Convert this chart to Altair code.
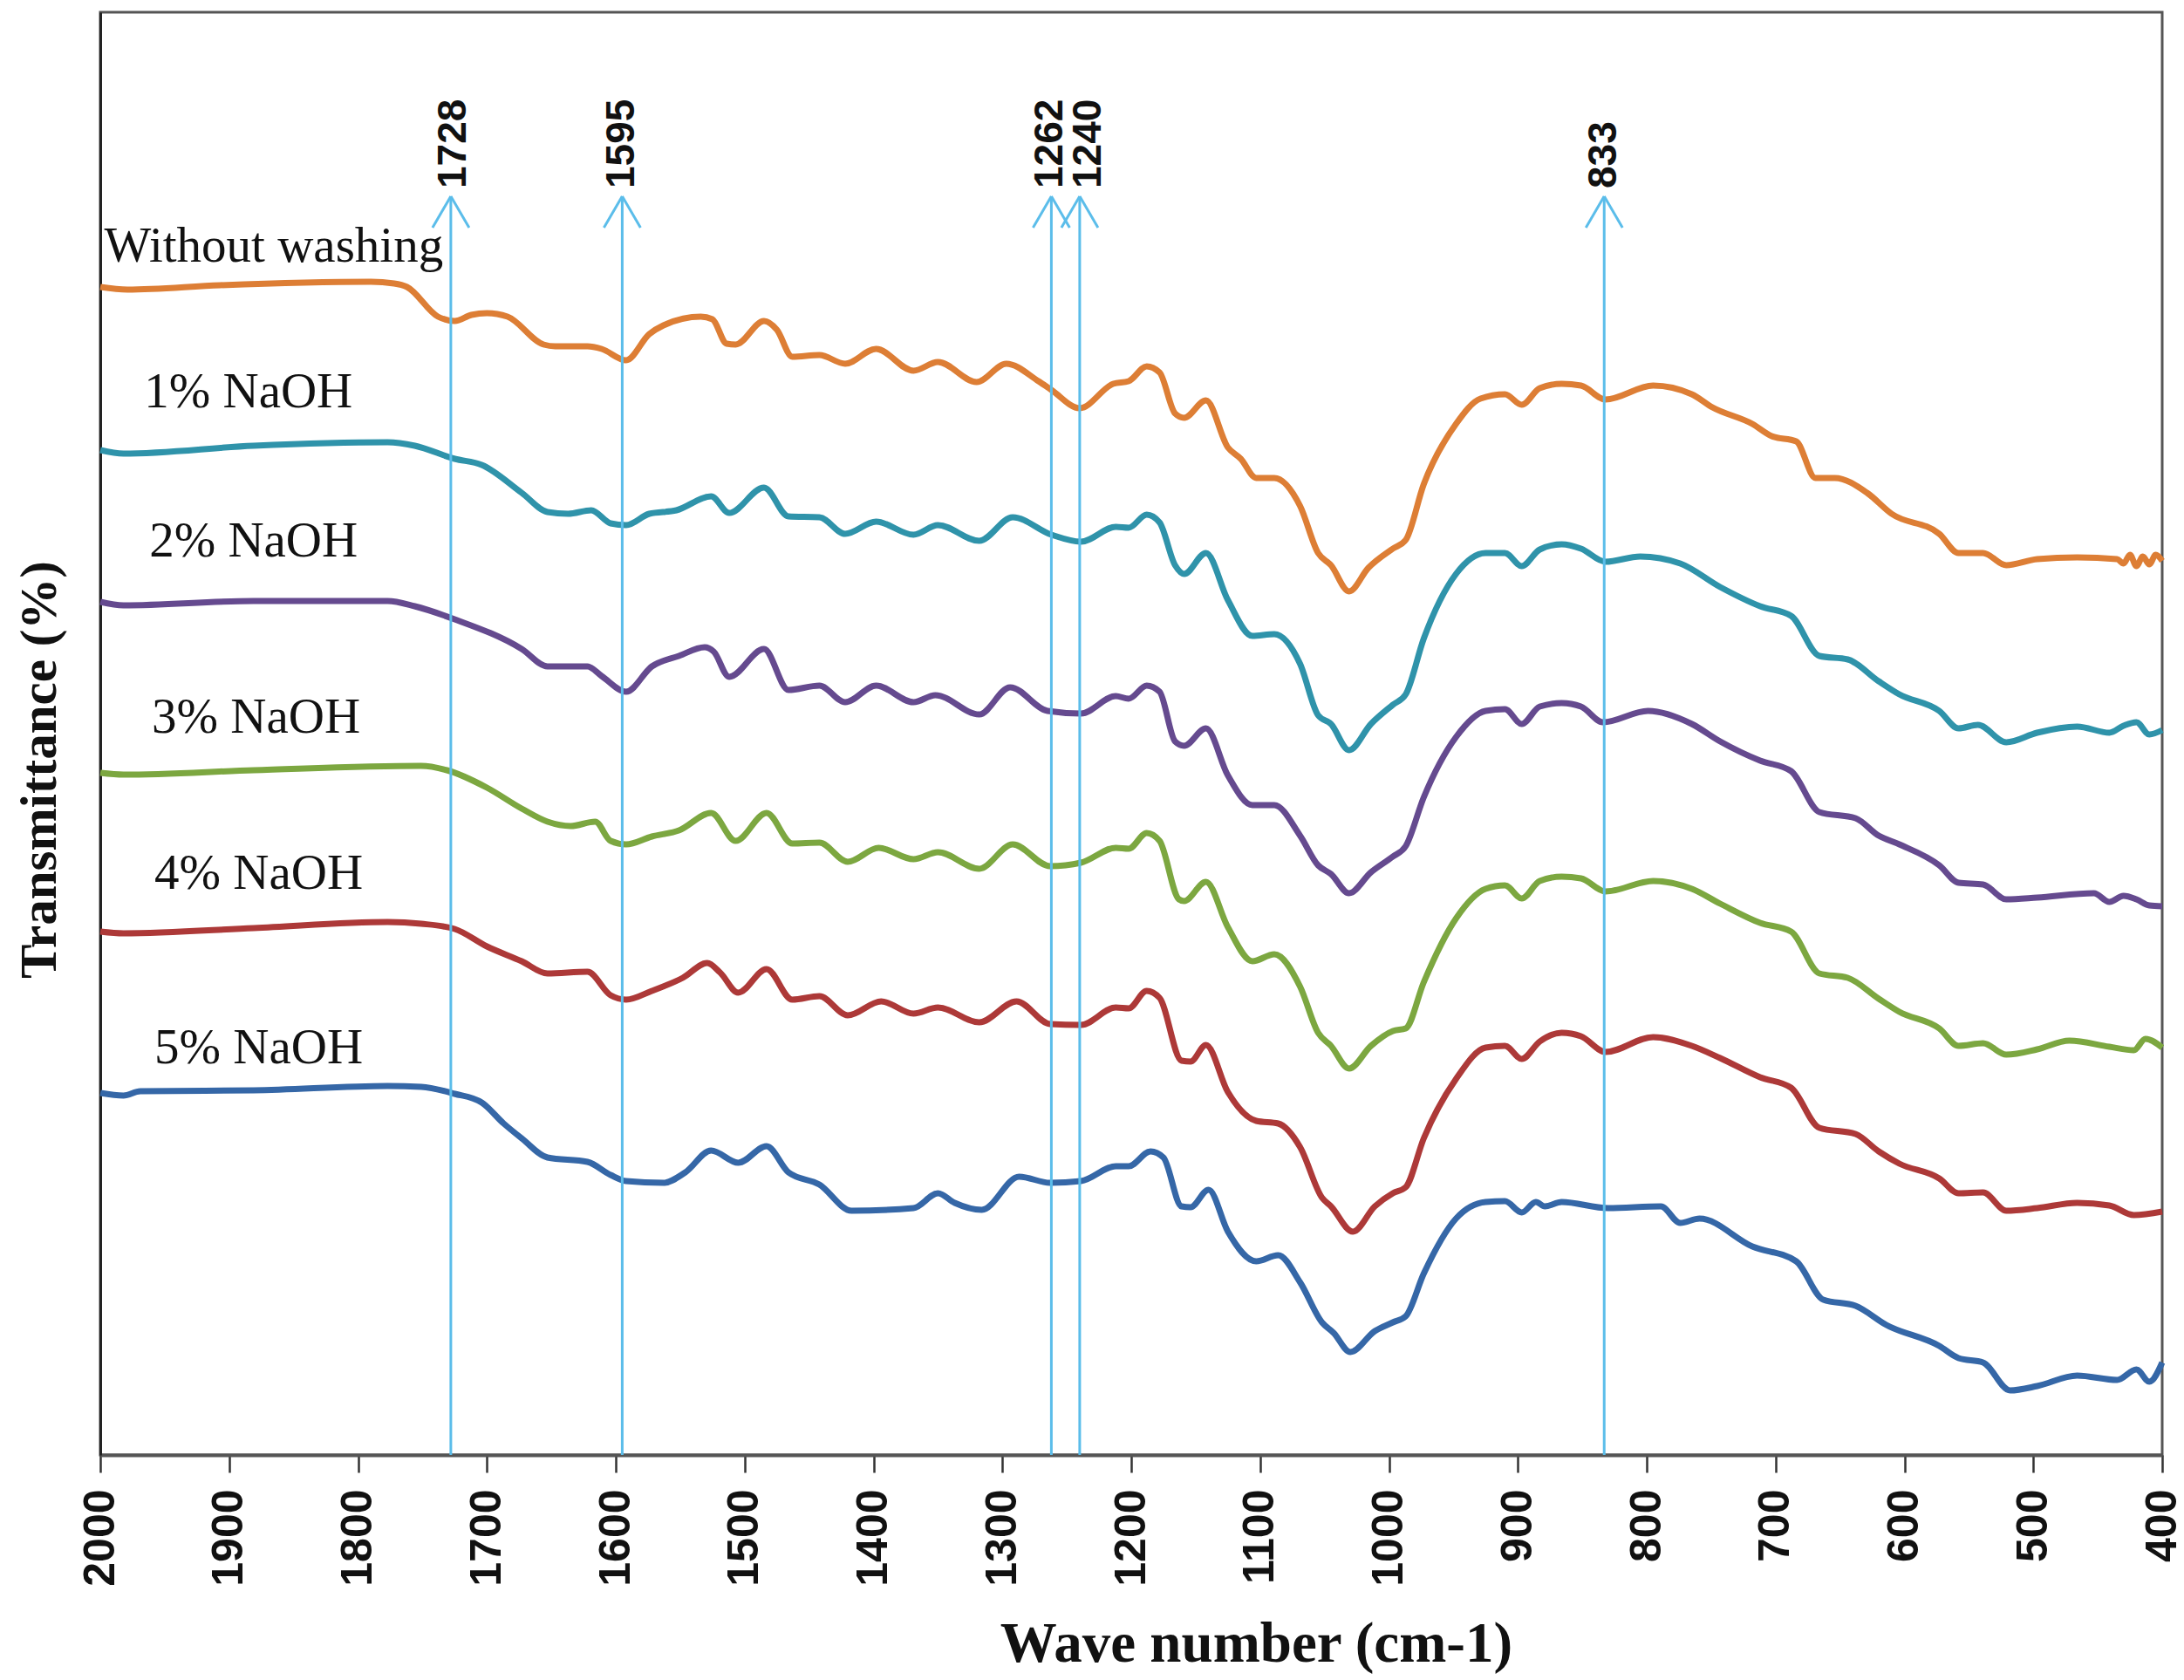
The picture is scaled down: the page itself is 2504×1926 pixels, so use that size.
import altair as alt
import pandas as pd

# ---- series labels and colours ----
series_names = ["Without washing", "1% NaOH", "2% NaOH", "3% NaOH", "4% NaOH", "5% NaOH"]
series_colors = ["#DD7E35", "#2F93AA", "#654A8F", "#7CA740", "#AD3938", "#3567A7"]

# ---- traced spectra (wave number, transmittance in arbitrary offset units) ----
wn_without = [2000, 1979, 1907, 1790, 1772, 1762, 1738, 1725, 1712, 1700, 1684, 1656, 1647, 1622, 1611,
              1592, 1574, 1563, 1534, 1525, 1514, 1507, 1485, 1475, 1463, 1442, 1422, 1398, 1369, 1350,
              1320, 1297, 1272, 1262, 1240, 1214, 1202, 1188, 1178, 1166, 1159, 1142, 1125, 1115, 1103,
              1089, 1069, 1055, 1045, 1031, 1016, 997, 987, 973, 948, 929, 910, 897, 883, 866, 851, 832,
              795, 765, 749, 718, 703, 684, 669, 654, 629, 610, 573, 558, 539, 521, 497, 466, 435, 430,
              425, 420, 415, 410, 405, 400]
t_without = [1339, 1336, 1341, 1345, 1343, 1339, 1305, 1300, 1307, 1309, 1305, 1273, 1271, 1271, 1268,
             1255, 1285, 1295, 1305, 1302, 1274, 1273, 1300, 1290, 1259, 1261, 1251, 1268, 1243, 1253,
             1230, 1251, 1231, 1221, 1200, 1228, 1231, 1248, 1241, 1194, 1189, 1209, 1155, 1142, 1120,
             1120, 1088, 1034, 1020, 990, 1017, 1039, 1049, 1113, 1182, 1211, 1216, 1204, 1223, 1228,
             1226, 1210, 1226, 1216, 1201, 1182, 1168, 1162, 1120, 1120, 1103, 1079, 1056, 1034, 1034,
             1020, 1027, 1029, 1027, 1022, 1032, 1019, 1030, 1021, 1032, 1025]

wn_1 = [2000, 1982, 1881, 1777, 1756, 1725, 1704, 1673, 1653, 1637, 1619, 1604, 1592, 1574, 1553, 1526,
        1512, 1485, 1466, 1442, 1422, 1398, 1369, 1350, 1318, 1292, 1262, 1239, 1212, 1202, 1188, 1178,
        1166, 1159, 1142, 1125, 1106, 1089, 1069, 1055, 1045, 1031, 1014, 997, 987, 973, 948, 925, 910,
        897, 883, 866, 851, 832, 805, 774, 743, 712, 688, 666, 644, 620, 604, 573, 558, 543, 521, 497,
        466, 441, 430, 420, 410, 400]
t_1 = [1152, 1148, 1157, 1161, 1157, 1142, 1135, 1103, 1081, 1079, 1083, 1068, 1066, 1079, 1083, 1099,
       1080, 1109, 1076, 1075, 1056, 1070, 1055, 1066, 1048, 1075, 1055, 1047, 1064, 1063, 1078, 1069,
       1020, 1010, 1034, 980, 939, 941, 907, 848, 838, 808, 838, 860, 872, 936, 1010, 1034, 1034,
       1019, 1038, 1044, 1039, 1024, 1030, 1022, 995, 973, 962, 916, 912, 887, 872, 853, 833, 837, 817,
       828, 835, 828, 836, 840, 826, 831]

wn_2 = [2000, 1982, 1881, 1777, 1756, 1725, 1673, 1653, 1622, 1611, 1592, 1572, 1551, 1531, 1524, 1512,
        1485, 1466, 1442, 1422, 1398, 1369, 1352, 1318, 1294, 1265, 1239, 1212, 1202, 1188, 1178, 1166,
        1159, 1142, 1125, 1106, 1089, 1069, 1055, 1045, 1031, 1014, 997, 987, 973, 948, 925, 910, 897,
        883, 866, 851, 834, 799, 765, 743, 712, 688, 666, 638, 620, 604, 573, 558, 539, 521, 497, 453,
        441, 430, 420, 410, 400]
t_2 = [978, 974, 979, 979, 973, 958, 924, 904, 904, 893, 875, 904, 916, 926, 921, 892,
       924, 877, 882, 863, 882, 863, 871, 849, 880, 853, 850, 870, 867, 882, 875, 818,
       813, 833, 779, 745, 745, 710, 676, 666, 644, 668, 686, 698, 754, 823, 853, 855, 838,
       858, 862, 858, 840, 853, 838, 818, 796, 784, 737, 730, 710, 700, 676, 656, 654, 637, 639, 644,
       634, 641, 637, 630, 629]

wn_3 = [2000, 1982, 1881, 1751, 1731, 1700, 1673, 1653, 1635, 1616, 1604, 1592, 1572, 1551, 1526, 1507,
        1483, 1463, 1442, 1420, 1396, 1369, 1350, 1318, 1292, 1263, 1239, 1212, 1202, 1188, 1178, 1163,
        1159, 1142, 1125, 1106, 1089, 1069, 1055, 1045, 1031, 1014, 997, 987, 973, 948, 925, 910, 897,
        883, 866, 851, 832, 795, 765, 743, 712, 688, 666, 644, 620, 604, 573, 558, 539, 521, 497, 472,
        441, 422, 413, 400]
t_3 = [782, 780, 785, 790, 785, 765, 741, 726, 721, 726, 704, 700, 709, 716, 736, 704,
       736, 701, 702, 680, 696, 683, 691, 672, 700, 675, 679, 696, 695, 713, 704, 637,
       635, 657, 605, 566, 574, 537, 484, 469, 443, 469, 486, 489, 542, 615, 649, 653, 638,
       658, 663, 661, 646, 658, 649, 632, 610, 600, 552, 547, 523, 508, 489, 469, 472, 459, 465, 475,
       468, 464, 477, 467]

wn_4 = [2000, 1982, 1881, 1777, 1751, 1725, 1700, 1673, 1653, 1622, 1604, 1592, 1572, 1548, 1529, 1519,
        1505, 1483, 1463, 1442, 1420, 1394, 1369, 1350, 1318, 1289, 1263, 1239, 1212, 1202, 1188, 1178,
        1161, 1154, 1142, 1125, 1103, 1086, 1069, 1052, 1045, 1028, 1011, 997, 987, 973, 948, 925, 910,
        897, 883, 866, 851, 832, 795, 765, 743, 712, 688, 666, 638, 620, 604, 573, 558, 539, 521, 497,
        466, 441, 422, 400]
t_4 = [600, 598, 604, 611, 609, 603, 583, 566, 552, 554, 527, 522, 532, 547, 564, 553,
       530, 557, 522, 526, 504, 520, 506, 513, 496, 520, 494, 493, 513, 512, 532, 524,
       452, 451, 470, 416, 383, 380, 353, 295, 285, 256, 285, 300, 307, 363, 431, 467, 469,
       454, 474, 484, 480, 462, 479, 469, 455, 433, 421, 375, 368, 348, 334, 317, 300, 301, 280, 283,
       289, 286, 275, 279]

wn_5 = [2000, 1982, 1969, 1881, 1777, 1751, 1725, 1704, 1687, 1673, 1653, 1622, 1604, 1592, 1563, 1546,
        1526, 1505, 1483, 1466, 1442, 1417, 1369, 1350, 1337, 1316, 1287, 1263, 1239, 1212, 1202, 1185,
        1175, 1161, 1154, 1140, 1125, 1103, 1086, 1069, 1052, 1043, 1030, 1011, 997, 987, 973, 948, 925,
        910, 897, 886, 879, 866, 830, 789, 774, 759, 718, 684, 663, 638, 614, 573, 558, 539, 518, 497,
        466, 435, 420, 410, 400]
t_5 = [415, 412, 417, 418, 423, 422, 414, 404, 380, 363, 341, 336, 321, 314, 312, 324,
       349, 335, 354, 324, 310, 280, 283, 300, 289, 281, 319, 312, 314, 331, 331, 348,
       341, 285, 284, 304, 256, 222, 229, 198, 152, 140, 118, 142, 152, 159, 208, 271, 290,
       291, 278, 290, 285, 290, 283, 285, 266, 271, 239, 222, 178, 171, 149, 125, 111, 106, 74, 79,
       91, 86, 98, 84, 106]

# ---- marked bands ----
band_wn = [1728, 1595, 1262, 1240, 833]
band_labels = ["1728", "1595", "1262", "1240", "833"]
band_label_wn = [1726, 1595, 1263, 1233, 833]

# ---- curve label positions (left start, baseline) ----
label_wn = [1997, 1966, 1962, 1960, 1958, 1958]
label_t = [1368, 1201, 1030, 828, 649, 449]

tick_values = list(range(400, 2001, 100))

rows = []
for name, wns, ts in zip(series_names,
                         [wn_without, wn_1, wn_2, wn_3, wn_4, wn_5],
                         [t_without, t_1, t_2, t_3, t_4, t_5]):
    for w, t in zip(wns, ts):
        rows.append({"series": name, "wn": w, "T": t})
spectra = pd.DataFrame(rows)
bands = pd.DataFrame({"wn": band_wn, "label": band_labels, "lwn": band_label_wn})
labels = pd.DataFrame({"series": series_names, "wn": label_wn, "T": label_t})

xscale = alt.Scale(domain=[400, 2000], reverse=True, nice=False, zero=False)
yscale = alt.Scale(domain=[0, 1654], nice=False, zero=False)

x_axis = alt.Axis(values=tick_values, format="d", labelAngle=270, labelFont="Liberation Sans",
                  labelFontSize=50, labelFontWeight="bold", labelColor="#111111", labelPadding=19,
                  labelFlush=False, labelOverlap=False, tickSize=20, tickWidth=2.5, tickColor="#333333",
                  domainColor="#555555", domainWidth=4, grid=False,
                  title="Wave number (cm-1)", titleFont="Liberation Serif", titleFontWeight="bold",
                  titleFontSize=65, titleColor="#111111", titleX=1325, titleY=236,
                  titleAlign="center", titleBaseline="alphabetic")
y_axis = alt.Axis(labels=False, ticks=False, grid=False, domainColor="#222222", domainWidth=3,
                  title="Transmittance (%)", titleFont="Liberation Serif", titleFontWeight="bold",
                  titleFontSize=59, titleColor="#111111", titleAngle=270, titleX=-70, titleY=868,
                  titleAlign="center", titleBaseline="middle")

color = alt.Color("series:N", scale=alt.Scale(domain=series_names, range=series_colors), legend=None)

lines = alt.Chart(spectra).mark_line(strokeWidth=7, interpolate="monotone").encode(
    x=alt.X("wn:Q", scale=xscale, axis=x_axis),
    y=alt.Y("T:Q", scale=yscale, axis=y_axis),
    color=color,
    detail="series:N",
)

arrow_color = "#5BBDEA"
band_base = alt.Chart(bands).transform_calculate(
    y0="0", ytip="1443", ywing="1407", ylab="1452",
    wl="datum.wn + 14.2", wr="datum.wn - 14.2",
)
stems = band_base.mark_rule(color=arrow_color, strokeWidth=3).encode(
    x=alt.X("wn:Q", scale=xscale), y=alt.Y("y0:Q", scale=yscale), y2="ytip:Q")
wing_l = band_base.mark_rule(color=arrow_color, strokeWidth=3).encode(
    x=alt.X("wn:Q", scale=xscale), x2="wl:Q", y=alt.Y("ytip:Q", scale=yscale), y2="ywing:Q")
wing_r = band_base.mark_rule(color=arrow_color, strokeWidth=3).encode(
    x=alt.X("wn:Q", scale=xscale), x2="wr:Q", y=alt.Y("ytip:Q", scale=yscale), y2="ywing:Q")
band_text = band_base.mark_text(angle=270, align="left", baseline="middle", font="Liberation Sans",
                                fontWeight="bold", fontSize=46, color="#111111").encode(
    x=alt.X("lwn:Q", scale=xscale), y=alt.Y("ylab:Q", scale=yscale), text="label:N")

curve_labels = alt.Chart(labels).mark_text(align="left", baseline="alphabetic", font="Liberation Serif",
                                           fontSize=57, color="#111111").encode(
    x=alt.X("wn:Q", scale=xscale), y=alt.Y("T:Q", scale=yscale), text="series:N")

chart = alt.layer(lines, stems, wing_l, wing_r, band_text, curve_labels).properties(
    width=2364, height=1654,
    autosize=alt.AutoSizeParams(type="none"),
    padding={"left": 107, "top": 6, "right": 17, "bottom": 262},
).configure_view(stroke="#555555", strokeWidth=3)

chart.save("out.html", embed_options={"renderer": "svg", "actions": False})
